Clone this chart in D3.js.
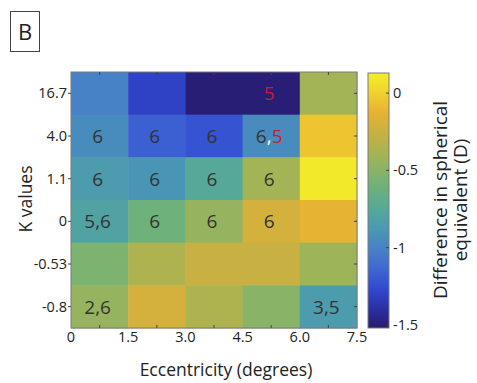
<!DOCTYPE html>
<html>
<head>
<meta charset="utf-8">
<script src="https://d3js.org/d3.v7.min.js"></script>
<style>
  body { margin: 0; background: #fff; }
  svg text { font-family: "Open Sans", sans-serif; fill: #222; }
</style>
</head>
<body>
<svg id="chart" width="477" height="383"></svg>
<script>
// data
const eccTicks = ["0", "1.5", "3.0", "4.5", "6.0", "7.5"];
const kValues = ["16.7", "4.0", "1.1", "0", "-0.53", "-0.8"];
// difference in spherical equivalent (D), one row per K value, 5 eccentricity bins
const diffSE = [
  [-1.0, -1.3, -1.5, -1.5, -0.4],
  [-0.95, -1.17, -1.22, -0.95, -0.05],
  [-0.85, -0.9, -0.75, -0.4, 0.1],
  [-0.8, -0.6, -0.45, -0.2, -0.12],
  [-0.55, -0.35, -0.25, -0.25, -0.42],
  [-0.45, -0.2, -0.35, -0.5, -0.85]
];
// cell annotations: [row, col, pieces]
const notes = [
  [0, 3, [["5", "red"]]],
  [1, 0, [["6"]]], [1, 1, [["6"]]], [1, 2, [["6"]]],
  [1, 3, [["6"], [",", "white"], ["5", "red"]]],
  [2, 0, [["6"]]], [2, 1, [["6"]]], [2, 2, [["6"]]], [2, 3, [["6"]]],
  [3, 0, [["5,6"]]], [3, 1, [["6"]]], [3, 2, [["6"]]], [3, 3, [["6"]]],
  [5, 0, [["2,6"]]], [5, 4, [["3,5"]]]
];
const cbTicks = [0, -0.5, -1, -1.5];

// colour stops sampled from the colour bar
const cmapStops = ["#271b6c", "#2b2fa6", "#3148d0", "#3f68d2", "#4880c8", "#4898b4",
  "#55a89a", "#66b080", "#88b468", "#a8b452", "#c8b042", "#e6b232", "#f0d22e", "#f2f02a"];
const vmin = -1.52, vmax = 0.13;
const color = d3.scaleLinear()
  .domain(d3.range(cmapStops.length).map(i => vmin + (vmax - vmin) * i / (cmapStops.length - 1)))
  .range(cmapStops)
  .interpolate(d3.interpolateRgb)
  .clamp(true);

const svg = d3.select("#chart");
const L = 71, T = 72, R = 357, B = 328;

const x = d3.scaleLinear().domain([0, 5]).range([L, R]);
const y = d3.scaleBand().domain(kValues).range([T, B]);

// panel letter
svg.append("rect").attr("x", 10.5).attr("y", 11.5).attr("width", 29).attr("height", 40)
  .attr("fill", "none").attr("stroke", "#444").attr("stroke-width", 1);
svg.append("text").attr("x", 25).attr("y", 40).attr("text-anchor", "middle")
  .style("font-size", "22px").text("B");

// heatmap cells
const cells = [];
diffSE.forEach((row, r) => row.forEach((v, c) => cells.push({ r, c, v })));
svg.append("g").selectAll("rect").data(cells).join("rect")
  .attr("x", d => x(d.c)).attr("y", d => y(kValues[d.r]))
  .attr("width", x(1) - x(0) + 0.5).attr("height", y.bandwidth() + 0.5)
  .attr("fill", d => color(d.v));

// annotations
const noteG = svg.append("g");
notes.forEach(([r, c, pieces]) => {
  const t = noteG.append("text")
    .attr("x", x(c + 0.5) - 2).attr("y", y(kValues[r]) + y.bandwidth() / 2 + 7)
    .attr("text-anchor", "middle").style("font-size", "19px");
  pieces.forEach(([s, col]) => {
    t.append("tspan").text(s)
      .style("fill", col === "red" ? "#c81e28" : col === "white" ? "#ffffff" : "#333");
  });
});

// frame and ticks
svg.append("rect").attr("x", L).attr("y", T).attr("width", R - L).attr("height", B - T)
  .attr("fill", "none").attr("stroke", "#7a7a7a").attr("stroke-width", 1);
const tickG = svg.append("g").attr("stroke", "#444").attr("stroke-width", 1);
d3.range(5).forEach(i => {
  const xc = x(i + 0.5);
  tickG.append("line").attr("x1", xc).attr("x2", xc).attr("y1", T).attr("y2", T + 3);
  tickG.append("line").attr("x1", xc).attr("x2", xc).attr("y1", B).attr("y2", B - 3);
});
kValues.forEach(k => {
  const yc = y(k) + y.bandwidth() / 2;
  tickG.append("line").attr("x1", L - 3).attr("x2", L).attr("y1", yc).attr("y2", yc);
  tickG.append("line").attr("x1", R).attr("x2", R - 3).attr("y1", yc).attr("y2", yc);
});

// x tick labels at bin edges
svg.append("g").selectAll("text").data(eccTicks).join("text")
  .attr("x", (d, i) => x(i)).attr("y", 342)
  .attr("text-anchor", "middle").style("font-size", "14.5px").text(d => d);
svg.append("text").attr("x", 226).attr("y", 376).attr("text-anchor", "middle")
  .style("font-size", "17.5px").text("Eccentricity (degrees)");

// y tick labels
svg.append("g").selectAll("text").data(kValues).join("text")
  .attr("x", L - 4).attr("y", d => y(d) + y.bandwidth() / 2 + 5)
  .attr("text-anchor", "end").style("font-size", "14.5px").text(d => d);
svg.append("text").attr("transform", "translate(32,199) rotate(-90)")
  .attr("text-anchor", "middle").style("font-size", "17.5px").text("K values");

// colour bar
const cbX = 368, cbW = 21;
const cy = d3.scaleLinear().domain([vmin, vmax]).range([B, T + 1]);
const defs = svg.append("defs");
const grad = defs.append("linearGradient").attr("id", "cbgrad")
  .attr("x1", 0).attr("x2", 0).attr("y1", 1).attr("y2", 0);
d3.range(0, 1.0001, 0.05).forEach(t => {
  grad.append("stop").attr("offset", t).attr("stop-color", color(vmin + (vmax - vmin) * t));
});
svg.append("rect").attr("x", cbX).attr("y", cy(vmax)).attr("width", cbW)
  .attr("height", cy(vmin) - cy(vmax)).attr("fill", "url(#cbgrad)")
  .attr("stroke", "#7a7a7a").attr("stroke-width", 1);
cbTicks.forEach(v => {
  svg.append("line").attr("x1", cbX + cbW - 3).attr("x2", cbX + cbW)
    .attr("y1", cy(v)).attr("y2", cy(v)).attr("stroke", "#444");
  svg.append("text").attr("x", cbX + cbW + 4).attr("y", cy(v) + 5)
    .style("font-size", "14.5px").text(v === 0 ? "0" : String(v));
});
const lab = svg.append("text").attr("transform", "translate(447,200) rotate(-90)")
  .attr("text-anchor", "middle").style("font-size", "19px");
lab.append("tspan").attr("x", 0).attr("dy", 0).text("Difference in spherical");
lab.append("tspan").attr("x", 0).attr("dy", 20).text("equivalent (D)");
</script>
</body>
</html>
